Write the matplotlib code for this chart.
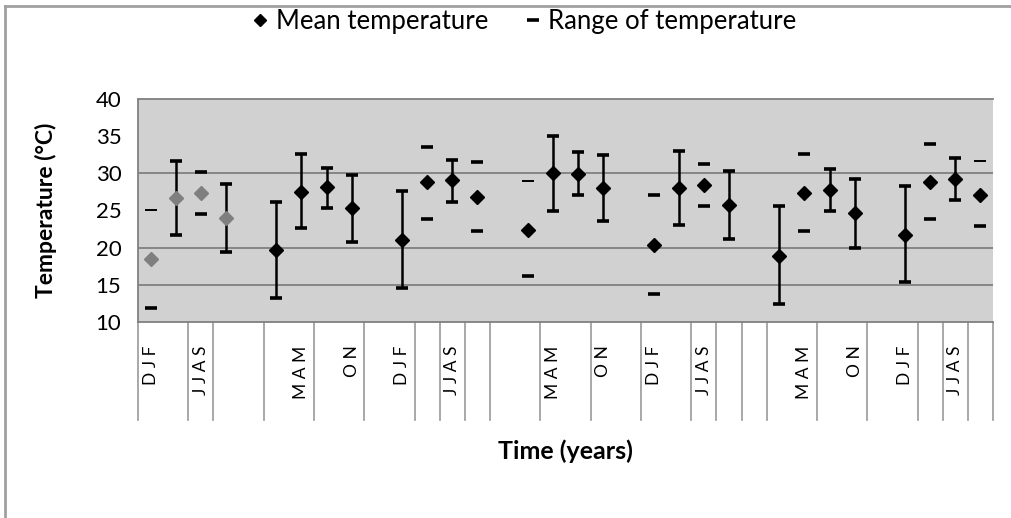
import numpy as np
import matplotlib
matplotlib.use("Agg")
import matplotlib.pyplot as plt
from matplotlib.lines import Line2D

plt.rcParams['font.family'] = ['Lato', 'DejaVu Sans']

nan = np.nan

# one slot per category on the axis (empty slots separate the years)
tick_labels = ['D J F', '', 'J J A S', '', '', '', 'M A M', '', 'O N', '',
               'D J F', '', 'J J A S', '', '', '', 'M A M', '', 'O N', '',
               'D J F', '', 'J J A S', '', '', '', 'M A M', '', 'O N', '',
               'D J F', '', 'J J A S', '']

mean_temp = [18.5, 26.7, 27.3, 24.0, nan, 19.7, 27.5, 28.1, 25.3, nan,
             21.0, 28.8, 29.1, 26.8, nan, 22.4, 30.0, 29.9, 28.0, nan,
             20.4, 28.0, 28.4, 25.8, nan, 18.9, 27.3, 27.8, 24.6, nan,
             21.7, 28.9, 29.2, 27.1]
high_temp = [25.0, 31.7, 30.2, 28.5, nan, 26.2, 32.6, 30.7, 29.8, nan,
             27.6, 33.6, 31.8, 31.5, nan, 29.0, 35.0, 32.9, 32.5, nan,
             27.1, 33.0, 31.3, 30.3, nan, 25.6, 32.6, 30.6, 29.3, nan,
             28.3, 33.9, 32.0, 31.6]
low_temp = [11.9, 21.7, 24.5, 19.4, nan, 13.2, 22.6, 25.3, 20.7, nan,
            14.6, 23.9, 26.2, 22.3, nan, 16.2, 24.9, 27.1, 23.6, nan,
            13.8, 23.1, 25.6, 21.2, nan, 12.4, 22.3, 24.9, 19.9, nan,
            15.4, 23.9, 26.4, 22.9]
# True where the range is drawn as a joined bar
joined = [False, True, False, True, False, True, True, True, True, False,
          True, False, True, False, False, False, True, True, True, False,
          False, True, False, True, False, True, False, True, True, False,
          True, False, True, False]

# styling only
grey_points = 4
thin_high = [0, 15, 33]
divider_edges = [0, 2, 3, 5, 7, 9, 11, 12, 13, 14, 16, 18, 20, 22, 23, 24,
                 25, 27, 29, 31, 32, 33, 34]

x = np.arange(len(tick_labels))
mean_temp = np.array(mean_temp)
high_temp = np.array(high_temp)
low_temp = np.array(low_temp)
joined = np.array(joined)

fig = plt.figure(figsize=(10.11, 5.18), dpi=100)
ax = fig.add_axes([138 / 1011, 1 - 322 / 518, 855 / 1011, 223 / 518])
ax.set_facecolor('#d1d1d1')

grid_color = '#808080'
for g in [15, 20, 30]:
    ax.axhline(g, color=grid_color, lw=1.3, zorder=1)

# joined ranges
ax.vlines(x[joined], low_temp[joined], high_temp[joined], color='black', lw=1.8, zorder=2)

# range ends
thick = np.ones(len(x), dtype=bool)
thick[thin_high] = False
ax.plot(x, low_temp, ls='none', marker='_', ms=9, mew=2.6, color='black', zorder=3)
ax.plot(x[thick], high_temp[thick], ls='none', marker='_', ms=9, mew=2.6, color='black', zorder=3)
ax.plot(x[~thick], high_temp[~thick], ls='none', marker='_', ms=9, mew=1.4, color='black', zorder=3)

# means
ax.plot(x[:grey_points], mean_temp[:grey_points], ls='none', marker='D', ms=7.5,
        color='#7f7f7f', zorder=4)
ax.plot(x[grey_points:], mean_temp[grey_points:], ls='none', marker='D', ms=7.5,
        color='black', zorder=4)

ax.set_xlim(-0.5, len(x) - 0.5)
ax.set_ylim(10, 40)

ax.set_xticks(x)
ax.set_xticklabels(tick_labels, rotation=90, fontsize=12.5, va='top')
ax.tick_params(axis='x', length=0, pad=17)

ax.set_yticks(np.arange(10, 41, 5))
ax.set_yticks([10, 15, 20, 30, 40], minor=True)
ax.tick_params(axis='y', which='major', length=0, labelsize=16, pad=12)
ax.tick_params(axis='y', which='minor', length=5, color=grid_color, width=1.2)

for side in ['top', 'bottom', 'left']:
    ax.spines[side].set_color(grid_color)
    ax.spines[side].set_linewidth(1.3)
ax.spines['right'].set_visible(False)

# category dividers below the axis
trans = ax.get_xaxis_transform()
for e in divider_edges:
    ax.plot([e - 0.5, e - 0.5], [0, -0.44], transform=trans, color='#9a9a9a',
            lw=1.2, clip_on=False)

ax.set_ylabel('Temperature (°C)', fontsize=16.5, fontweight='bold', labelpad=28)
fig.text(565 / 1011, 1 - 451 / 518, 'Time (years)', fontsize=18, fontweight='bold',
         ha='center', va='center')

handles = [Line2D([], [], ls='none', marker='D', ms=6, color='black'),
           Line2D([], [], ls='none', marker='_', ms=9, mew=2.6, color='black')]
fig.legend(handles, ['Mean temperature', 'Range of temperature'], ncol=2,
           loc='center', bbox_to_anchor=(524 / 1011, 1 - 21 / 518), frameon=False,
           fontsize=18.5, handlelength=0.7, handletextpad=0.25, columnspacing=1.4)

# outer chart frame (top and left only are inside the picture)
fig.add_artist(Line2D([5 / 1011, 1], [1 - 6 / 518, 1 - 6 / 518], transform=fig.transFigure,
                      color='#a0a0a0', lw=2))
fig.add_artist(Line2D([5 / 1011, 5 / 1011], [0, 1 - 6 / 518], transform=fig.transFigure,
                      color='#a0a0a0', lw=2))

fig.savefig('out.png', dpi=100)
